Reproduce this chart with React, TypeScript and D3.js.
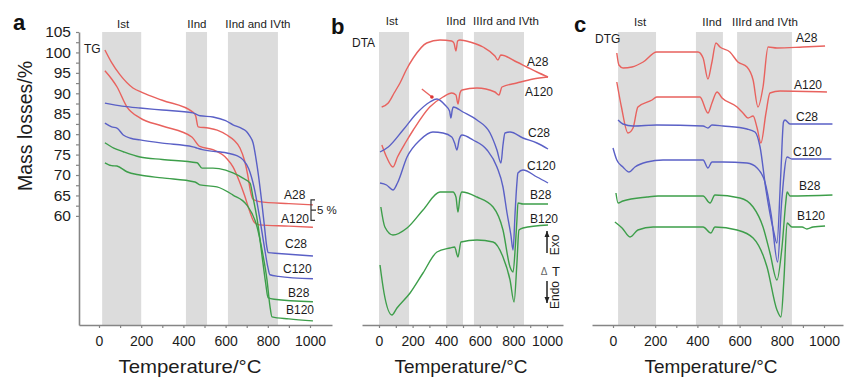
import { useEffect, useRef } from "react";
import * as d3 from "d3";

type Pt = [number, number];

// ---- series names / colours ----
const seriesNames = ["A28", "A120", "C28", "C120", "B28", "B120"];
const seriesColors = ["#e8625e", "#e8625e", "#5a60c6", "#5a60c6", "#3d9e4a", "#3d9e4a"];

// ---- panel a: TG, mass % vs temperature ----
const tgA28: Pt[] = [[28, 100.6], [60, 97.5], [100, 94.5], [161, 91.3], [209, 90.1], [300, 88.3], [445, 85.4], [458, 84.5], [470, 81.8], [517, 81.5], [560, 81.0], [606, 79.8], [640, 78.5], [668, 76.6], [690, 73.5], [705, 70], [718, 66], [728, 64.2], [760, 63.5], [900, 63], [1014, 62.7]];
const tgA120: Pt[] = [[28, 95.5], [60, 93.5], [85, 91.6], [132, 86.7], [194, 84], [300, 82], [440, 79.3], [478, 77], [540, 76.2], [606, 74], [635, 72], [665, 68.5], [690, 65], [715, 61], [735, 58.5], [760, 57.8], [900, 57.5], [1014, 57.2]];
const tgC28: Pt[] = [[28, 87.6], [60, 87.3], [120, 86.8], [194, 86.4], [300, 85.9], [445, 85.2], [479, 84.5], [540, 84.2], [600, 83.3], [635, 82.3], [680, 81.3], [700, 80.6], [715, 79.5], [730, 77.9], [750, 72], [770, 64], [785, 57], [795, 52.5], [802, 51], [850, 50.8], [1014, 50.2]];
const tgC120: Pt[] = [[28, 82.7], [60, 81.8], [85, 81.5], [115, 79.8], [150, 79], [194, 78.6], [300, 77.8], [445, 76.9], [465, 76.6], [490, 76.2], [606, 75.4], [650, 74.8], [683, 73.7], [710, 71.5], [735, 67], [760, 60], [785, 52], [800, 47.5], [810, 45.6], [850, 45.2], [1014, 44.6]];
const tgB28: Pt[] = [[28, 77.9], [70, 76.6], [115, 75.7], [194, 74.4], [300, 73.8], [465, 73], [488, 71.7], [540, 71.7], [600, 71.2], [635, 70.5], [680, 69.3], [716, 68], [730, 64.5], [750, 59], [777, 48.5], [790, 43.5], [801, 40], [830, 39.6], [1014, 39]];
const tgB120: Pt[] = [[28, 73], [60, 72.3], [85, 72.2], [132, 70.8], [194, 70], [300, 69.3], [455, 68.3], [478, 67.6], [559, 67.1], [635, 65.1], [700, 62.7], [749, 57.3], [775, 51], [796, 44.4], [810, 38], [820, 35.3], [900, 34.8], [1014, 34.3]];

// ---- panel b: DTA, offset signal (a.u.) ----
const dtaA28: Pt[] = [[16, 218], [55, 222], [90, 232], [125, 242], [165, 256], [204, 267], [284, 282], [363, 285], [432, 284], [446, 282], [458, 274], [468, 284], [482, 285], [542, 283], [619, 278], [690, 269], [708, 265], [725, 270], [820, 263], [880, 258], [940, 253], [1006, 248]];
const dtaA120: Pt[] = [[17, 180], [45, 168], [83, 158], [110, 168], [160, 183], [204, 195], [302, 218], [381, 228], [433, 232], [458, 230], [470, 221], [482, 232], [494, 235], [583, 237], [690, 233], [714, 230], [732, 238], [820, 242], [917, 246], [1006, 248]];
const dtaC28: Pt[] = [[6, 173], [55, 178], [143, 195], [226, 212], [303, 223], [345, 226], [393, 220], [420, 214], [428, 207], [436, 215], [442, 218], [500, 213], [583, 205], [661, 192], [702, 175], [726, 162], [738, 180], [750, 192], [780, 193], [857, 187], [940, 182], [1006, 176]];
const dtaC120: Pt[] = [[6, 142], [45, 140], [83, 135], [110, 142], [167, 168], [244, 185], [321, 193], [381, 192], [433, 188], [450, 182], [464, 175], [478, 186], [494, 190], [560, 185], [643, 175], [702, 158], [738, 138], [762, 112], [785, 90], [798, 75], [810, 112], [820, 140], [827, 152], [857, 155], [940, 148], [1006, 142]];
const dtaB28: Pt[] = [[11, 118], [35, 98], [83, 90], [167, 97], [262, 115], [363, 133], [440, 133], [458, 128], [470, 113], [482, 128], [494, 133], [583, 128], [679, 118], [738, 95], [780, 58], [798, 53], [812, 80], [821, 105], [827, 122], [857, 121], [1006, 121]];
const dtaB120: Pt[] = [[6, 60], [30, 32], [77, 10], [107, 17], [185, 32], [262, 52], [345, 73], [423, 77], [450, 78], [470, 68], [488, 83], [583, 85], [679, 83], [738, 68], [780, 45], [804, 23], [821, 62], [833, 95], [857, 97], [1006, 100]];

// ---- panel c: DTG, offset signal (a.u.) ----
const dtgA28: Pt[] = [[18, 272], [28, 260], [48, 257], [90, 258], [143, 263], [207, 273], [317, 273], [403, 273], [427, 267], [450, 246], [468, 262], [488, 282], [507, 278], [554, 273], [592, 263], [635, 258], [664, 245], [687, 218], [711, 238], [735, 278], [777, 277], [900, 278], [1005, 279]];
const dtgA120: Pt[] = [[18, 243], [40, 218], [71, 192], [95, 197], [118, 218], [185, 225], [207, 228], [412, 228], [450, 212], [469, 222], [493, 233], [517, 227], [588, 218], [616, 212], [640, 207], [664, 209], [683, 197], [701, 182], [725, 212], [744, 232], [792, 234], [1014, 233]];
const dtgC28: Pt[] = [[24, 205], [47, 201], [95, 199], [207, 200], [427, 199], [450, 197], [469, 200], [521, 199], [635, 196], [673, 193], [697, 178], [725, 135], [760, 95], [777, 82], [795, 150], [808, 203], [815, 205], [839, 201], [1040, 201]];
const dtgC120: Pt[] = [[0, 177], [18, 165], [47, 158], [76, 153], [104, 158], [161, 163], [237, 165], [427, 165], [450, 157], [469, 163], [521, 163], [635, 162], [683, 157], [720, 143], [750, 110], [780, 63], [800, 125], [825, 168], [848, 166], [1035, 166]];
const dtgB28: Pt[] = [[14, 132], [24, 122], [47, 124], [161, 128], [213, 129], [427, 129], [460, 122], [483, 130], [602, 127], [664, 118], [711, 98], [744, 72], [777, 45], [801, 78], [819, 123], [825, 133], [839, 129], [1040, 130]];
const dtgB120: Pt[] = [[9, 103], [43, 97], [81, 88], [118, 95], [190, 98], [427, 98], [464, 92], [483, 98], [588, 95], [664, 87], [730, 58], [777, 15], [796, 8], [810, 45], [825, 102], [848, 98], [896, 98], [919, 96], [948, 98], [1005, 99]];

// ---- decomposition stages (°C) ----
const bandsA: Pt[] = [[15, 200], [412, 512], [611, 848]];
const bandsB: Pt[] = [[0, 179], [400, 500], [565, 863]];
const bandsC: Pt[] = [[24, 204], [393, 521], [588, 848]];
const stageLabelsA = ["Ist", "IInd", "IInd and IVth"];
const stageLabelsBC = ["Ist", "IInd", "IIIrd and IVth"];
const stageLabelTA = [114, 464, 753];
const stageLabelTB = [77, 458, 756];
const stageLabelTC = [128, 469, 720];

const xTicks = d3.range(0, 1001, 100);
const yTicksA = d3.range(60, 105.1, 2.5);

const FONT = '"Liberation Sans", Arial, Helvetica, sans-serif';
const TXT = "#1c1c1c";
const AXIS = "#858585";

export default function App() {
  const ref = useRef<SVGSVGElement>(null);

  useEffect(() => {
    const svg = d3.select(ref.current);
    svg.selectAll("*").remove();
    svg.attr("font-family", FONT);

    const yA = d3.scaleLinear().domain([33.3, 105]).range([325, 32]);
    const ySig = d3.scaleLinear().domain([0, 293]).range([325, 32]);

    const panels = [
      {
        letter: "a", lx: 13, ly: 30, range: [99, 310], axis: [79, 332], y: yA,
        bands: bandsA, stages: stageLabelsA, stageT: stageLabelTA, stageY: 28,
        series: [tgA28, tgA120, tgC28, tgC120, tgB28, tgB120],
        tag: "TG", tagX: 84, tagY: 53, titleX: 190, titleW: 143,
        labels: [[284, 199], [281, 223], [285, 248], [283, 273], [288, 297], [286, 314]],
      },
      {
        letter: "b", lx: 331, ly: 34, range: [379, 547], axis: [362, 563], y: ySig,
        bands: bandsB, stages: stageLabelsBC, stageT: stageLabelTB, stageY: 25,
        series: [dtaA28, dtaA120, dtaC28, dtaC120, dtaB28, dtaB120],
        tag: "DTA", tagX: 352, tagY: 47, titleX: 461, titleW: 133,
        labels: [[527, 66], [525, 96], [528, 137], [527, 170], [530, 199], [530, 223]],
      },
      {
        letter: "c", lx: 574, ly: 32, range: [613, 824], axis: [592, 843], y: ySig,
        bands: bandsC, stages: stageLabelsBC, stageT: stageLabelTC, stageY: 26,
        series: [dtgA28, dtgA120, dtgC28, dtgC120, dtgB28, dtgB120],
        tag: "DTG", tagX: 595, tagY: 43, titleX: 711, titleW: 133,
        labels: [[796, 42], [794, 89], [796, 121], [793, 156], [799, 190], [797, 220]],
      },
    ];

    panels.forEach((p) => {
      const x = d3.scaleLinear().domain([0, 1000]).range(p.range);
      const xAxisScale = d3.scaleLinear()
        .domain([x.invert(p.axis[0]), x.invert(p.axis[1])])
        .range(p.axis);
      const g = svg.append("g");
      const top = 32, bottom = 325;

      // grey stage bands
      g.selectAll("rect.band")
        .data(p.bands)
        .join("rect")
        .attr("x", (d) => x(d[0]))
        .attr("y", top)
        .attr("width", (d) => x(d[1]) - x(d[0]))
        .attr("height", bottom - top)
        .attr("fill", "#dcdcdc");

      // stage labels
      g.selectAll("text.stage")
        .data(p.stages)
        .join("text")
        .attr("x", (_, i) => x(p.stageT[i]))
        .attr("y", p.stageY)
        .attr("text-anchor", "middle")
        .attr("font-size", 11.5)
        .attr("fill", TXT)
        .text((d) => d);

      // x axis
      const xa = g.append("g")
        .attr("transform", `translate(0,${bottom})`)
        .call(
          d3.axisBottom(xAxisScale)
            .tickValues(xTicks)
            .tickSize(3)
            .tickSizeOuter(0)
            .tickPadding(8)
            .tickFormat((d) => ((d as number) % 200 === 0 ? String(d) : ""))
        );
      xa.select(".domain").attr("stroke", AXIS).attr("stroke-width", 1.6);
      xa.selectAll(".tick line").attr("stroke", AXIS).attr("stroke-width", 1.2);
      xa.selectAll(".tick text").attr("font-size", 14).attr("fill", TXT).attr("font-family", FONT);

      // curves
      const line = d3.line<Pt>()
        .x((d) => x(d[0]))
        .y((d) => p.y(d[1]))
        .curve(d3.curveMonotoneX);
      g.selectAll("path.curve")
        .data(p.series)
        .join("path")
        .attr("d", (d) => line(d))
        .attr("fill", "none")
        .attr("stroke", (_, i) => seriesColors[i])
        .attr("stroke-width", 1.4)
        .attr("stroke-linejoin", "round");

      // series labels
      g.selectAll("text.lab")
        .data(seriesNames)
        .join("text")
        .attr("x", (_, i) => p.labels[i][0])
        .attr("y", (_, i) => p.labels[i][1])
        .attr("font-size", 12)
        .attr("fill", TXT)
        .text((d) => d);

      // panel tag
      g.append("text").attr("x", p.tagX).attr("y", p.tagY)
        .attr("font-size", 12).attr("fill", TXT).text(p.tag);

      // panel letter
      g.append("text").attr("x", p.lx).attr("y", p.ly)
        .attr("font-size", 22).attr("font-weight", "bold").attr("fill", "#111").text(p.letter);

      // x title
      g.append("text")
        .attr("x", p.titleX)
        .attr("y", 373)
        .attr("text-anchor", "middle")
        .attr("font-size", 18.5)
        .attr("textLength", p.titleW)
        .attr("lengthAdjust", "spacingAndGlyphs")
        .attr("fill", TXT)
        .text("Temperature/°C");

      if (p.letter === "a") {
        const ya = g.append("g")
          .attr("transform", "translate(79,0)")
          .call(
            d3.axisLeft(yA)
              .tickValues(yTicksA)
              .tickSize(3)
              .tickSizeOuter(0)
              .tickPadding(5)
              .tickFormat((d) => ((d as number) % 5 === 0 ? String(d) : ""))
          );
        ya.select(".domain").attr("stroke", AXIS).attr("stroke-width", 1.6);
        ya.selectAll(".tick line").attr("stroke", AXIS).attr("stroke-width", 1.2);
        ya.selectAll(".tick text").attr("font-size", 15.5).attr("fill", TXT).attr("font-family", FONT);

        g.append("text")
          .attr("transform", "translate(32,126) rotate(-90)")
          .attr("text-anchor", "middle")
          .attr("font-size", 19.5)
          .attr("fill", TXT)
          .text("Mass losses/%");

        // 5 % scale bar
        const bx = 311, y0 = yA(63.9), y1 = yA(58.9);
        g.append("path")
          .attr("d", `M${bx + 4},${y0}H${bx}V${y1}H${bx + 4}M${bx},${(y0 + y1) / 2}h5`)
          .attr("fill", "none").attr("stroke", "#333").attr("stroke-width", 1.2);
        g.append("text").attr("x", bx + 6).attr("y", (y0 + y1) / 2 + 4)
          .attr("font-size", 11.5).attr("fill", TXT).text("5 %");
      }

      if (p.letter === "b") {
        // red arrow
        const ax0 = x(255), ay0 = ySig(236), ax1 = x(315), ay1 = ySig(228);
        g.append("line").attr("x1", ax0).attr("y1", ay0).attr("x2", ax1).attr("y2", ay1)
          .attr("stroke", "#e8625e").attr("stroke-width", 1.3);
        g.append("circle").attr("cx", ax1).attr("cy", ay1).attr("r", 1.8).attr("fill", "#d33");

        // Exo / Endo indicator
        const ix = 547;
        const arrow = (y1: number, y2: number) => {
          g.append("line").attr("x1", ix).attr("y1", y1).attr("x2", ix).attr("y2", y2)
            .attr("stroke", "#222").attr("stroke-width", 1.5);
          const dir = y2 < y1 ? 1 : -1;
          g.append("path")
            .attr("d", `M${ix},${y2}L${ix - 2.5},${y2 + dir * 6}L${ix + 2.5},${y2 + dir * 6}Z`)
            .attr("fill", "#222");
        };
        arrow(253, 231);
        arrow(281, 303);
        g.append("text").attr("transform", "translate(559,245) rotate(-90)")
          .attr("text-anchor", "middle").attr("font-size", 12).attr("fill", TXT).text("Exo");
        g.append("text").attr("transform", "translate(559,295) rotate(-90)")
          .attr("text-anchor", "middle").attr("font-size", 12).attr("fill", TXT).text("Endo");
        g.append("text").attr("x", 544).attr("y", 275).attr("text-anchor", "middle")
          .attr("font-size", 10).attr("fill", "#666").text("Δ");
        g.append("text").attr("x", 556).attr("y", 276).attr("text-anchor", "middle")
          .attr("font-size", 13).attr("fill", TXT).text("T");
      }
    });
  }, []);

  return (
    <svg
      ref={ref}
      width={853}
      height={378}
      style={{ position: "absolute", left: 0, top: 0, background: "#fff" }}
    />
  );
}
